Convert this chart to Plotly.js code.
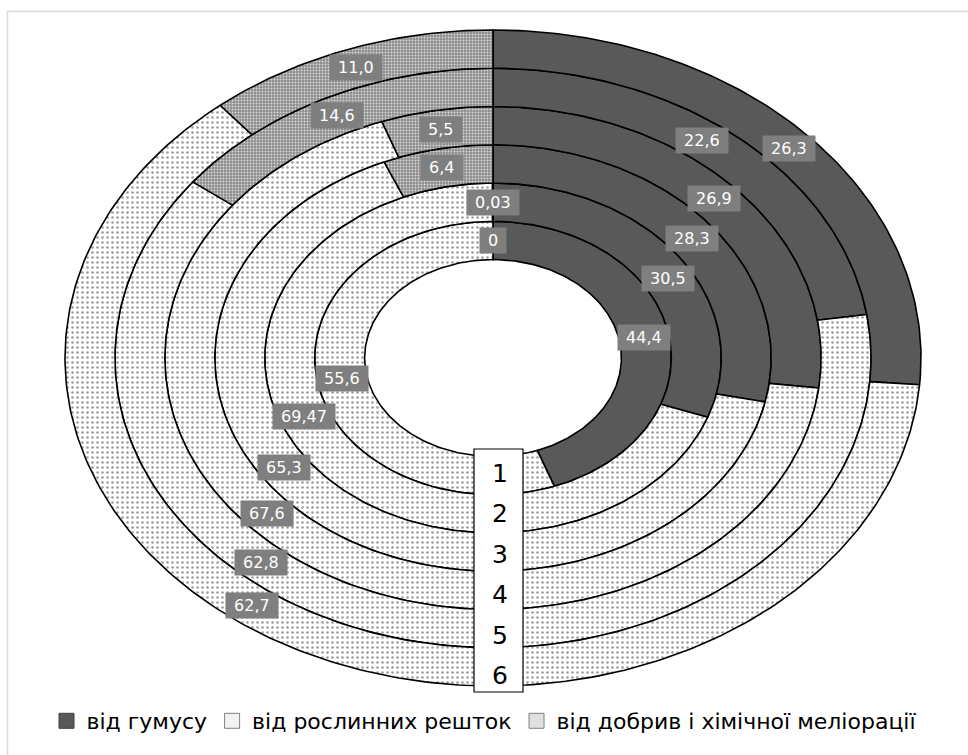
<!DOCTYPE html>
<html><head><meta charset="utf-8">
<script src="https://cdn.plot.ly/plotly-3.0.1.min.js"></script>
<style>html,body{margin:0;padding:0;background:#fff}</style>
</head><body><div id="chart" style="width:968px;height:755px"></div>
<script>
// ---- data ----
const ringNames = ['1', '2', '3', '4', '5', '6'];
const seriesNames = ['від гумусу', 'від рослинних решток', 'від добрив і хімічної меліорації'];
const humus = [44.4, 30.5, 28.3, 26.9, 22.6, 26.3];
const plant = [55.6, 69.47, 65.3, 67.6, 62.8, 62.7];
const fert  = [0, 0.03, 6.4, 5.5, 14.6, 11.0];
const series = [humus, plant, fert];

// ---- label placement (percent position along the ring; null = middle of slice) ----
const labelPos = [
  [null, 16.5, 14.4, 13.0, 10.1, null],
  [null, 68.9, 65.5, 63.35, 61.4, 60.2],
  [null, null, null, null, null, null]
];

// ---- geometry / style ----
const W = 968, H = 755;
const CX = 493, CY = 358, AX = 428, BY = 328, HOLE = 0.3;
const RW = (1 - HOLE) / ringNames.length;
const FONT = 'DejaVu Sans, Verdana, sans-serif';
const styles = [
  {fillcolor: '#595959'},
  {fillcolor: '#ffffff', fillpattern: {shape: '.', bgcolor: '#ffffff', fgcolor: '#9a9a9a', size: 5, solidity: 0.2}},
  {fillcolor: '#9a9a9a', fillpattern: {shape: '.', bgcolor: '#8e8e8e', fgcolor: '#dadada', size: 3, solidity: 0.3}}
];
const legendStyles = [
  {color: '#595959', line: {color: '#404040', width: 1}},
  {color: '#f2f2f2', line: {color: '#808080', width: 1}},
  {color: '#e0e0e0', line: {color: '#808080', width: 1}}
];

function pt(frac, r) {
  const t = 2 * Math.PI * frac / 100;
  return [CX + AX * r * Math.sin(t), CY - BY * r * Math.cos(t)];
}
function fmt(v) {
  if (v === 0) return '0';
  let s = String(v);
  if (s.indexOf('.') < 0) s += '.0';
  return s.replace('.', ',');
}

const traces = [];
const annotations = [];
const BOX = {x0: 474, x1: 523, y0: 449, y1: 692};
ringNames.forEach((ring, k) => {
  const r0 = HOLE + k * RW, r1 = HOLE + (k + 1) * RW, rm = (r0 + r1) / 2;
  let start = 0;
  series.forEach((vals, s) => {
    const v = vals[k];
    const f0 = start, f1 = start + v;
    start = f1;
    if (v > 0) {
      const n = Math.max(2, Math.ceil(v * 4));
      const xs = [], ys = [];
      for (let i = 0; i <= n; i++) { const p = pt(f0 + (f1 - f0) * i / n, r1); xs.push(p[0]); ys.push(p[1]); }
      for (let i = n; i >= 0; i--) { const p = pt(f0 + (f1 - f0) * i / n, r0); xs.push(p[0]); ys.push(p[1]); }
      xs.push(xs[0]); ys.push(ys[0]);
      traces.push(Object.assign({
        type: 'scatter', mode: 'lines', x: xs, y: ys, fill: 'toself',
        line: {color: '#000000', width: 1.6}, hoverinfo: 'skip', showlegend: false,
        name: seriesNames[s] + ' ' + ring
      }, styles[s]));
    }
    const at = labelPos[s][k] === null ? (f0 + f1) / 2 : labelPos[s][k];
    const lp = pt(at, rm);
    annotations.push({
      x: lp[0], y: lp[1], xref: 'x', yref: 'y', text: '\u00a0' + fmt(v) + '\u00a0', showarrow: false,
      bgcolor: '#7f7f7f', borderpad: 3,
      font: {family: FONT, size: 16, color: '#ffffff'}
    });
  });
  // ring number inside the text box
  annotations.push({
    x: (BOX.x0 + BOX.x1) / 2 + 1, y: BOX.y0 + 24 + k * (BOX.y1 - BOX.y0) / 6, xref: 'x', yref: 'y',
    text: ring, showarrow: false,
    font: {family: FONT, size: 25, color: '#000000'}
  });
});

// legend-only traces
seriesNames.forEach((nm, s) => {
  traces.push({
    type: 'scatter', mode: 'markers', x: [null], y: [null], name: nm,
    marker: Object.assign({symbol: 'square', size: 15}, legendStyles[s]),
    hoverinfo: 'skip', showlegend: true
  });
});

const layout = {
  width: W, height: H,
  margin: {l: 0, r: 0, t: 0, b: 0},
  paper_bgcolor: '#ffffff', plot_bgcolor: '#ffffff',
  xaxis: {range: [0, W], visible: false, fixedrange: true},
  yaxis: {range: [H, 0], visible: false, fixedrange: true},
  showlegend: true,
  legend: {
    orientation: 'h', x: 0.5, xanchor: 'center', y: (H - 721) / H, yanchor: 'middle',
    font: {family: FONT, size: 22, color: '#000000'},
    itemwidth: 30, bgcolor: 'rgba(0,0,0,0)'
  },
  shapes: [
    {type: 'rect', xref: 'x', yref: 'y', x0: BOX.x0, x1: BOX.x1, y0: BOX.y0, y1: BOX.y1,
     line: {color: '#000000', width: 1.2}, fillcolor: '#ffffff', layer: 'above'},
    {type: 'rect', xref: 'x', yref: 'y', x0: 7.5, x1: 990, y0: 11.5, y1: 790,
     line: {color: '#d9d9d9', width: 1.5}, fillcolor: 'rgba(0,0,0,0)', layer: 'above'}
  ],
  annotations: annotations
};

Plotly.newPlot('chart', traces, layout, {displayModeBar: false, staticPlot: true});
</script>
</body></html>
